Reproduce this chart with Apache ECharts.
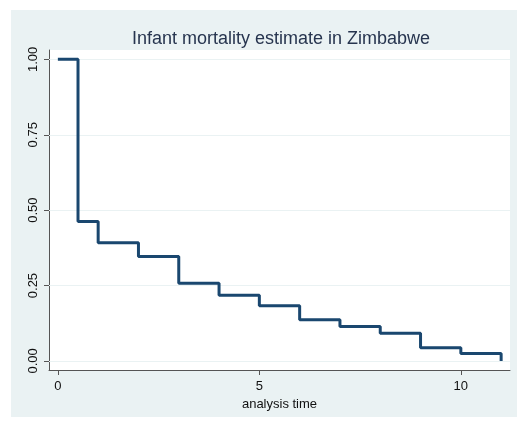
<!DOCTYPE html>
<html>
<head>
<meta charset="utf-8">
<script src="https://cdn.jsdelivr.net/npm/echarts@6/dist/echarts.min.js"></script>
<style>
  html, body { margin: 0; padding: 0; background: #fff; }
  #chart { width: 518px; height: 421px; }
</style>
</head>
<body>
<div id="chart"></div>
<script>
// survival steps
var times = [0, 0.5, 1, 2, 3, 4, 5, 6, 7, 8, 9, 10, 11];
var survival = [1.0, 0.462, 0.392, 0.346, 0.258, 0.218, 0.183, 0.137, 0.114, 0.092, 0.044, 0.025, 0.0];
var xTicks = [0, 5, 10];
var yTicks = [0, 0.25, 0.5, 0.75, 1];

var chart = echarts.init(document.getElementById('chart'), null, { renderer: 'canvas' });

var points = times.map(function (t, i) { return [t, survival[i]]; });

var option = {
  animation: false,
  textStyle: { fontFamily: 'Liberation Sans' },
  graphic: [{
    type: 'rect',
    z: -10,
    shape: { x: 11, y: 10, width: 506, height: 407 },
    style: { fill: '#eaf2f3' }
  }],
  title: {
    text: 'Infant mortality estimate in Zimbabwe',
    left: 276,
    textAlign: 'center',
    top: 25,
    textStyle: { fontSize: 18, fontWeight: 'normal', color: '#27354f', fontFamily: 'Liberation Sans' }
  },
  grid: {
    left: 49, right: 8, top: 50, bottom: 51,
    show: true, backgroundColor: '#fff', borderWidth: 0
  },
  xAxis: {
    type: 'value',
    min: -0.22, max: 11.22,
    name: 'analysis time',
    nameLocation: 'middle',
    nameGap: 20,
    nameTextStyle: { fontSize: 13, color: '#111' },
    axisLine: { onZero: false, lineStyle: { color: '#555', width: 1 } },
    axisTick: { show: true, length: 5, customValues: xTicks, lineStyle: { color: '#555' } },
    axisLabel: { customValues: xTicks, fontSize: 13, color: '#111', margin: 10 },
    splitLine: { show: false }
  },
  yAxis: {
    type: 'value',
    min: -0.03, max: 1.031,
    axisLine: { show: true, onZero: false, lineStyle: { color: '#555', width: 1 } },
    axisTick: { show: true, length: 5, customValues: yTicks, lineStyle: { color: '#555' } },
    axisLabel: {
      customValues: yTicks, rotate: 90, fontSize: 13, color: '#111', margin: 9,
      formatter: function (v) { return v.toFixed(2); }
    },
    splitLine: { show: false }
  },
  series: [
    {
      type: 'line',
      step: 'end',
      z: 3,
      data: points,
      showSymbol: false,
      lineStyle: { color: '#1a476f', width: 3 },
      markLine: {
        // light gridlines, kept under the curve
        z: 1,
        silent: true,
        symbol: 'none',
        label: { show: false },
        emphasis: { disabled: true },
        lineStyle: { color: '#eaf2f3', type: 'solid', width: 1 },
        data: yTicks.map(function (v) { return { yAxis: v }; })
      }
    }
  ]
};

chart.setOption(option);
</script>
</body>
</html>
